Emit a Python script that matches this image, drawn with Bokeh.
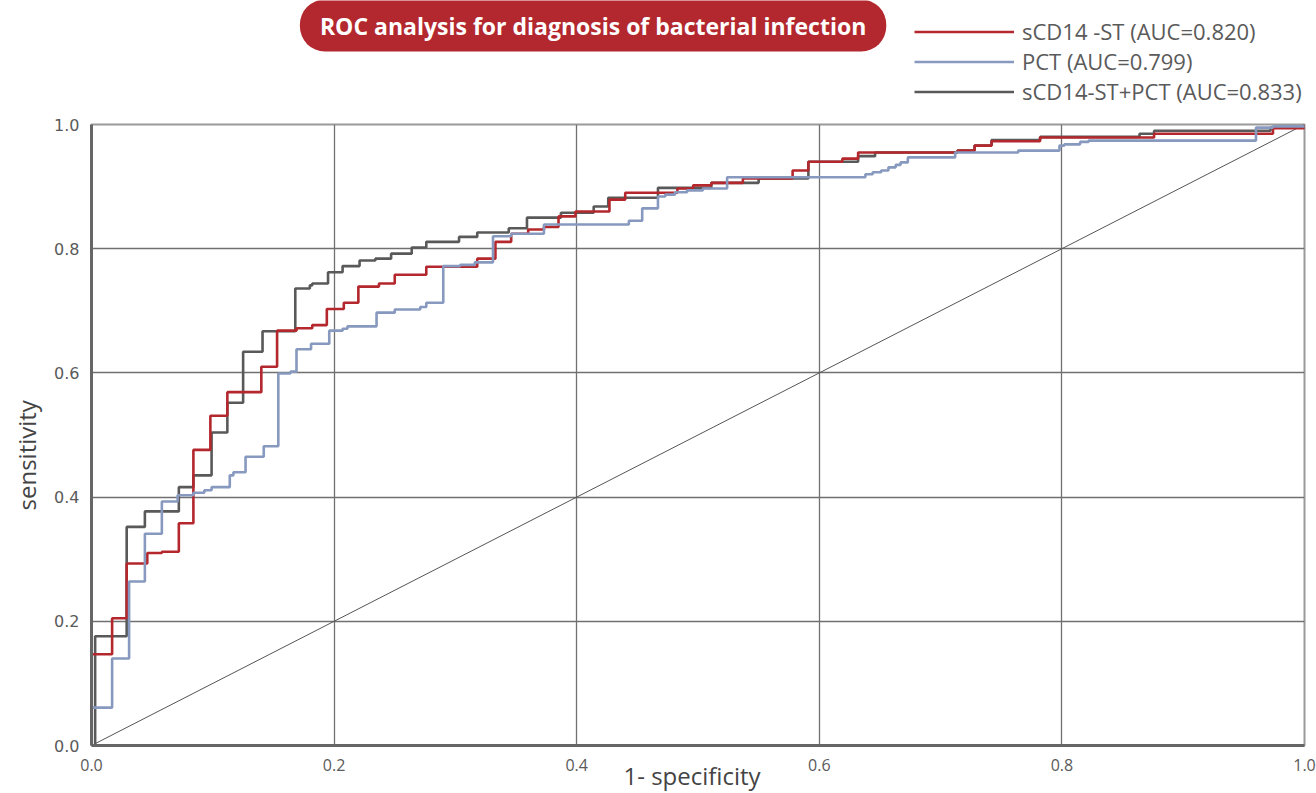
import numpy as np

from bokeh.plotting import figure
from bokeh.layouts import column
from bokeh.models import (Range1d, Label, Legend, LegendItem, FixedTicker, Title)
from bokeh.embed import file_html
from bokeh.resources import INLINE

# ROC step curves: at each fpr value the curve rises to the listed tpr
sCD14_fpr = [0.0, 0.0, 0.017, 0.029, 0.046, 0.058, 0.072, 0.084, 0.098, 0.112, 0.140,
             0.153, 0.169, 0.182, 0.194, 0.208, 0.220, 0.237, 0.250, 0.276, 0.318,
             0.333, 0.346, 0.360, 0.373, 0.385, 0.399, 0.427, 0.440, 0.483, 0.496,
             0.511, 0.537, 0.578, 0.591, 0.619, 0.632, 0.714, 0.728, 0.742, 0.782,
             0.876, 0.974, 1.0]
sCD14_tpr = [0.0, 0.147, 0.205, 0.293, 0.310, 0.312, 0.358, 0.476, 0.531, 0.569, 0.610,
             0.668, 0.672, 0.677, 0.703, 0.713, 0.739, 0.744, 0.758, 0.771, 0.784,
             0.811, 0.824, 0.831, 0.835, 0.852, 0.860, 0.879, 0.890, 0.897, 0.902,
             0.906, 0.913, 0.926, 0.940, 0.945, 0.955, 0.958, 0.966, 0.973, 0.979,
             0.985, 0.994, 1.0]

pct_fpr = [0.0, 0.0, 0.017, 0.031, 0.044, 0.058, 0.071, 0.084, 0.093, 0.099, 0.114,
           0.117, 0.127, 0.142, 0.154, 0.164, 0.169, 0.181, 0.196, 0.207, 0.211,
           0.235, 0.250, 0.271, 0.276, 0.290, 0.304, 0.316, 0.331, 0.346, 0.373,
           0.443, 0.454, 0.467, 0.473, 0.481, 0.491, 0.504, 0.524, 0.638, 0.644,
           0.651, 0.657, 0.663, 0.667, 0.673, 0.712, 0.764, 0.798, 0.802, 0.815,
           0.822, 0.960, 0.974, 1.0]
pct_tpr = [0.0, 0.061, 0.140, 0.264, 0.341, 0.393, 0.403, 0.407, 0.411, 0.416, 0.435,
           0.440, 0.465, 0.482, 0.599, 0.602, 0.638, 0.647, 0.668, 0.671, 0.675,
           0.697, 0.702, 0.706, 0.713, 0.772, 0.774, 0.778, 0.820, 0.824, 0.839,
           0.845, 0.865, 0.884, 0.887, 0.891, 0.894, 0.897, 0.915, 0.920, 0.923,
           0.926, 0.931, 0.935, 0.939, 0.947, 0.955, 0.958, 0.966, 0.968, 0.972,
           0.974, 0.995, 0.997, 1.0]

combo_fpr = [0.0, 0.003, 0.029, 0.044, 0.072, 0.084, 0.099, 0.112, 0.125, 0.141, 0.168,
             0.180, 0.182, 0.195, 0.207, 0.221, 0.234, 0.247, 0.264, 0.276, 0.303,
             0.318, 0.344, 0.359, 0.387, 0.414, 0.426, 0.467, 0.511, 0.550, 0.591,
             0.632, 0.646, 0.714, 0.728, 0.742, 0.782, 0.864, 0.876, 0.972, 1.0]
combo_tpr = [0.0, 0.176, 0.352, 0.377, 0.416, 0.435, 0.504, 0.552, 0.634, 0.667, 0.736,
             0.741, 0.744, 0.762, 0.772, 0.781, 0.784, 0.792, 0.802, 0.811, 0.819,
             0.826, 0.833, 0.850, 0.858, 0.868, 0.882, 0.898, 0.906, 0.913, 0.940,
             0.949, 0.955, 0.958, 0.966, 0.975, 0.980, 0.985, 0.990, 0.995, 1.0]

chance_line = [0.0, 1.0]
tick_values = [0.0, 0.2, 0.4, 0.6, 0.8, 1.0]

series_labels = ["sCD14 -ST (AUC=0.820)", "PCT (AUC=0.799)", "sCD14-ST+PCT (AUC=0.833)"]
series_colors = ["#B3272D", "#8799BE", "#595959"]

title_text = "ROC analysis for diagnosis of bacterial infection"
x_title = "1- specificity"
y_title = "sensitivity"

TEXT_GREY = "#5a5a5a"
W, H = 1316, 793
HEADER_H = 106
LEFT, RIGHT = 90, 12

# ---- header strip: title badge and legend (x and y in canvas pixels) ----
head = figure(width=W, height=HEADER_H, output_backend="svg", toolbar_location=None,
              x_range=Range1d(LEFT, W - RIGHT), y_range=Range1d(HEADER_H, 0),
              x_axis_type=None, y_axis_type=None,
              min_border_left=LEFT, min_border_right=RIGHT,
              min_border_top=0, min_border_bottom=0)
head.outline_line_color = None
head.grid.visible = False
head.background_fill_color = "white"
head.border_fill_color = "white"

badge = Label(x=592, y=25, text=title_text, text_align="center",
              text_baseline="middle", text_color="white", text_font="Open Sans",
              text_font_style="bold", text_font_size="23px",
              background_fill_color="#B3282E",
              padding=dict(left=20, right=20, top=10, bottom=10), border_radius=25)
head.add_layout(badge)

# key-only renderers (no visible data) so the legend can show the line styles
key_renderers = [head.line(x=np.array([np.nan]), y=np.array([np.nan]),
                           line_color=c, line_width=2.6) for c in series_colors]
legend = Legend(items=[LegendItem(label=lab, renderers=[r])
                       for lab, r in zip(series_labels, key_renderers)],
                location=(913 - LEFT, 0), orientation="vertical")
legend.glyph_width = 100
legend.glyph_height = 29
legend.label_height = 29
legend.spacing = 0
legend.padding = 0
legend.margin = 0
legend.label_standoff = 8
legend.label_text_font = "Open Sans"
legend.label_text_font_size = "22px"
legend.label_text_color = TEXT_GREY
legend.border_line_alpha = 0
legend.background_fill_alpha = 0
head.add_layout(legend)

# ---- ROC plot ----
p = figure(width=W, height=H - HEADER_H, output_backend="svg", toolbar_location=None,
           x_range=Range1d(0, 1), y_range=Range1d(0, 1),
           min_border_left=LEFT, min_border_right=RIGHT, min_border_top=124 - HEADER_H,
           min_border_bottom=48)
p.background_fill_color = "white"
p.border_fill_color = "white"
p.outline_line_color = "#9a9a9a"
p.outline_line_width = 2

for ax in (p.xaxis, p.yaxis):
    ax.ticker = FixedTicker(ticks=tick_values)
    ax.axis_line_color = "#666666"
    ax.axis_line_width = 3
    ax.major_tick_line_color = None
    ax.minor_tick_line_color = None
    ax.major_tick_out = 0
    ax.minor_tick_out = 0
    ax.major_label_text_color = TEXT_GREY
    ax.major_label_text_font_size = "16px"
p.xaxis.major_label_text_font = "Open Sans"
p.yaxis.major_label_text_font = "DejaVu Sans"
p.xaxis.major_label_standoff = 13
p.yaxis.major_label_standoff = 12
p.xaxis.major_label_overrides = {v: f"{v:.1f}" for v in tick_values}
p.yaxis.major_label_overrides = {v: f"{v:.1f}" for v in tick_values}

# axis titles sit in their own panels, placed a fixed distance along the frame
y_title_box = Title(text=y_title, align="left", offset=235, vertical_align="middle",
                    standoff=16, text_font="Open Sans", text_font_size="24px",
                    text_font_style="normal", text_color="#444444")
p.add_layout(y_title_box, "left")

x_title_box = Title(text=x_title, align="left", offset=532, vertical_align="top",
                    standoff=-30, text_font="Open Sans", text_font_size="24px",
                    text_font_style="normal", text_color="#444444")
p.add_layout(x_title_box, "below")

for g in (p.xgrid, p.ygrid):
    g.ticker = FixedTicker(ticks=[0.2, 0.4, 0.6, 0.8])
    g.grid_line_color = "#707070"
    g.grid_line_width = 1.3

# chance diagonal
p.line(chance_line, chance_line, line_color="#555555", line_width=1)

p.step(combo_fpr, combo_tpr, mode="after", line_color=series_colors[2], line_width=2.6)
p.step(sCD14_fpr, sCD14_tpr, mode="after", line_color=series_colors[0], line_width=2.6)
p.step(pct_fpr, pct_tpr, mode="after", line_color=series_colors[1], line_width=2.6)

page = column(head, p, spacing=0)
open("out.html", "w").write(file_html(page, INLINE))
